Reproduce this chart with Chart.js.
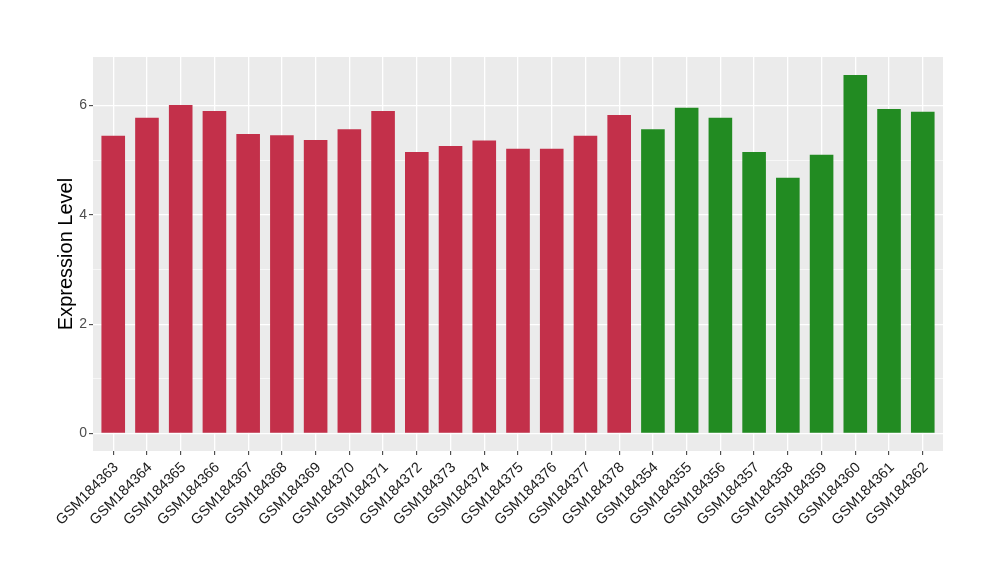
<!DOCTYPE html>
<html><head><meta charset="utf-8">
<script src="https://cdn.jsdelivr.net/npm/chart.js@4/dist/chart.umd.min.js"></script>
<style>html,body{margin:0;padding:0;background:#fff}</style>
</head><body>
<canvas id="c" width="1000" height="580"></canvas>
<script>
const categories = ["GSM184363","GSM184364","GSM184365","GSM184366","GSM184367","GSM184368","GSM184369","GSM184370","GSM184371","GSM184372","GSM184373","GSM184374","GSM184375","GSM184376","GSM184377","GSM184378","GSM184354","GSM184355","GSM184356","GSM184357","GSM184358","GSM184359","GSM184360","GSM184361","GSM184362"];
const values = [5.45,5.78,6.01,5.90,5.48,5.46,5.37,5.57,5.90,5.15,5.26,5.36,5.21,5.21,5.45,5.83,5.57,5.96,5.78,5.15,4.68,5.10,6.56,5.94,5.89];
const groups = ["A","A","A","A","A","A","A","A","A","A","A","A","A","A","A","A","B","B","B","B","B","B","B","B","B"];
const groupColors = {A:"#C3304A", B:"#228B22"};
const yTicks = [0,1,2,3,4,5,6];
const yLabelTicks = [0,2,4,6];

const panelBg = {
  id:'panelBg',
  beforeDraw(chart){
    const {ctx, chartArea:a} = chart;
    ctx.save(); ctx.fillStyle='#EBEBEB';
    ctx.fillRect(a.left,a.top,a.right-a.left,a.bottom-a.top);
    ctx.restore();
  }
};

new Chart(document.getElementById('c'), {
  type:'bar',
  data:{
    datasets:[{
      data: values.map((v,i)=>({x:i+1,y:v})),
      backgroundColor: groups.map(g=>groupColors[g]),
      categoryPercentage:1.0,
      barPercentage:0.7,
      borderWidth:0
    }]
  },
  options:{
    responsive:false,
    animation:false,
    layout:{padding:{left:50,top:57,right:57,bottom:0}},
    plugins:{legend:{display:false},tooltip:{enabled:false}},
    scales:{
      x:{
        type:'linear',
        offset:false,
        min:0.4, max:25.6,
        afterBuildTicks:(ax)=>{ax.ticks = categories.map((c,i)=>({value:i+1}));},
        afterFit:(ax)=>{ax.height = 129;},
        border:{display:false},
        grid:{offset:false, color:'#FFFFFF', lineWidth:1.3, tickColor:'#333333', tickLength:4, tickWidth:1},
        ticks:{
          autoSkip:false, maxRotation:45, minRotation:45, padding:4, labelOffset:3,
          color:'#1A1A1A', font:{family:'Liberation Sans, Arial, sans-serif', size:14.5},
          callback:(v)=>categories[Math.round(v)-1]
        }
      },
      y:{
        min:-0.32, max:6.89,
        afterBuildTicks:(ax)=>{ax.ticks = yTicks.map(v=>({value:v}));},
        afterFit:(ax)=>{ax.width = 43;},
        border:{display:false},
        grid:{
          color:'#FFFFFF',
          lineWidth:(ctx)=> (ctx.tick && yLabelTicks.includes(ctx.tick.value)) ? 1.3 : 0.6,
          tickColor:(ctx)=> (ctx.tick && yLabelTicks.includes(ctx.tick.value)) ? '#333333' : 'rgba(0,0,0,0)',
          tickLength:4, tickWidth:1
        },
        ticks:{
          padding:2, color:'#4D4D4D', font:{family:'Liberation Sans, Arial, sans-serif', size:14},
          callback:(v)=> yLabelTicks.includes(v) ? String(v) : ''
        },
        title:{display:true, text:'Expression Level', color:'#000', padding:{top:4,bottom:0},
          font:{family:'Liberation Sans, Arial, sans-serif', size:20}}
      }
    }
  },
  plugins:[panelBg]
});
</script>
</body></html>
